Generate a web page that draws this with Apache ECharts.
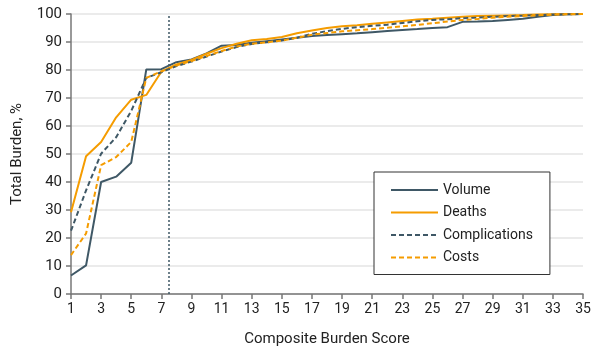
<!DOCTYPE html>
<html lang="en">
<head>
    <meta charset="UTF-8">
    <title>Composite Burden Score</title>
    <script src="https://cdn.jsdelivr.net/npm/echarts@6/dist/echarts.min.js"></script>
    <style>
        html, body { margin: 0; padding: 0; background: #fff; }
        #chart { width: 592px; height: 349px; }
    </style>
</head>
<body>
<div id="chart"></div>
<script type="text/javascript">
    // composite burden score 1..35
    var scores = [];
    for (var s = 1; s <= 35; s++) scores.push(s);
    var xTicks = [1, 3, 5, 7, 9, 11, 13, 15, 17, 19, 21, 23, 25, 27, 29, 31, 33, 35];
    var cutoff = 7.5;

    var volume = [6.6, 10.2, 40, 41.9, 46.9, 80.2, 80.3, 82.8, 83.8, 85.9, 88.7, 88.9, 89.7, 90.3, 90.9, 91.5,
        92.1, 92.5, 92.8, 93.1, 93.5, 93.9, 94.3, 94.6, 95, 95.3, 97.2, 97.3, 97.5, 97.9, 98.3, 99, 99.6, 99.9, 100];
    var deaths = [29.2, 49.2, 54.3, 63.1, 69.4, 71.1, 79.4, 82, 83.6, 85.8, 87.8, 89.4, 90.6, 91.1, 91.8, 93.1,
        94.1, 95, 95.6, 96, 96.5, 97, 97.5, 98, 98.3, 98.7, 99, 99.3, 99.4, 99.5, 99.6, 99.8, 99.9, 100, 100];
    var complications = [22.6, 37, 50.1, 56, 65.4, 77.2, 79.2, 81.4, 83, 84.8, 86.6, 88.2, 89.3, 89.9, 90.5, 91.5,
        92.9, 93.9, 94.7, 95.3, 95.8, 96.2, 96.8, 97.4, 97.9, 98.1, 98.5, 98.7, 99, 99.3, 99.4, 99.6, 99.8, 99.9, 100];
    var costs = [13.9, 21.6, 46, 48.9, 54.3, 77.2, 79.5, 81.6, 83.2, 85, 86.8, 88.4, 89.4, 89.9, 90.5, 91.5,
        92.6, 93.2, 93.8, 94.2, 94.6, 95.1, 95.6, 96.1, 96.7, 97.3, 97.9, 98.2, 98.7, 99, 99.3, 99.5, 99.8, 99.9, 100];

    var DARK = '#3f5866';
    var ORANGE = '#f59c00';
    var FONT = 'Roboto';

    function pairs(arr) {
        return arr.map(function (v, i) { return [scores[i], v]; });
    }

    var myChart = echarts.init(document.getElementById('chart'), null, {renderer: 'canvas'});
    var option = {
        animation: false,
        textStyle: {fontFamily: FONT},
        grid: {left: 71, right: 9, top: 14, bottom: 55, outerBoundsMode: 'none', containLabel: false},
        legend: {
            orient: 'vertical',
            left: 374,
            top: 172,
            padding: [11, 17, 10, 16],
            itemWidth: 47,
            itemHeight: 14,
            itemGap: 8.5,
            borderColor: '#333',
            borderWidth: 1,
            backgroundColor: '#fff',
            itemStyle: {opacity: 0},
            textStyle: {fontFamily: FONT, fontSize: 14, color: '#222'},
            data: ['Volume', 'Deaths', 'Complications', 'Costs']
        },
        xAxis: {
            type: 'value',
            min: 1,
            max: 35,
            name: 'Composite Burden Score',
            nameLocation: 'middle',
            nameGap: 38,
            nameTextStyle: {fontFamily: FONT, fontSize: 15, color: '#222'},
            splitLine: {show: false},
            axisLine: {lineStyle: {color: '#777', width: 1.5}},
            axisTick: {customValues: xTicks, length: 5, lineStyle: {color: '#777', width: 1.5}},
            axisLabel: {customValues: xTicks, margin: 8, fontSize: 14, color: '#222'}
        },
        yAxis: {
            type: 'value',
            min: 0,
            max: 100,
            interval: 10,
            name: 'Total Burden, %',
            nameLocation: 'middle',
            nameGap: 46,
            nameTextStyle: {fontFamily: FONT, fontSize: 15, color: '#222'},
            axisLine: {show: true, lineStyle: {color: '#777', width: 1.5}},
            axisTick: {show: true, length: 5, lineStyle: {color: '#777', width: 1.5}},
            axisLabel: {margin: 9, fontSize: 15, color: '#222'},
            splitLine: {lineStyle: {color: '#e4e4e4', width: 1.5}}
        },
        series: [
            {
                name: 'Volume',
                type: 'line',
                symbol: 'none',
                data: pairs(volume),
                lineStyle: {color: DARK, width: 2},
                itemStyle: {color: DARK},
                markLine: {
                    silent: true,
                    symbol: 'none',
                    label: {show: false},
                    lineStyle: {color: DARK, type: [2, 2], width: 1.5},
                    data: [{xAxis: cutoff}]
                }
            },
            {
                name: 'Deaths',
                type: 'line',
                symbol: 'none',
                data: pairs(deaths),
                lineStyle: {color: ORANGE, width: 2},
                itemStyle: {color: ORANGE}
            },
            {
                name: 'Complications',
                type: 'line',
                symbol: 'none',
                data: pairs(complications),
                lineStyle: {color: DARK, width: 2, type: [5, 3]},
                itemStyle: {color: DARK}
            },
            {
                name: 'Costs',
                type: 'line',
                symbol: 'none',
                data: pairs(costs),
                lineStyle: {color: ORANGE, width: 2, type: [5, 3]},
                itemStyle: {color: ORANGE}
            }
        ]
    };
    myChart.setOption(option);
</script>
</body>
</html>
